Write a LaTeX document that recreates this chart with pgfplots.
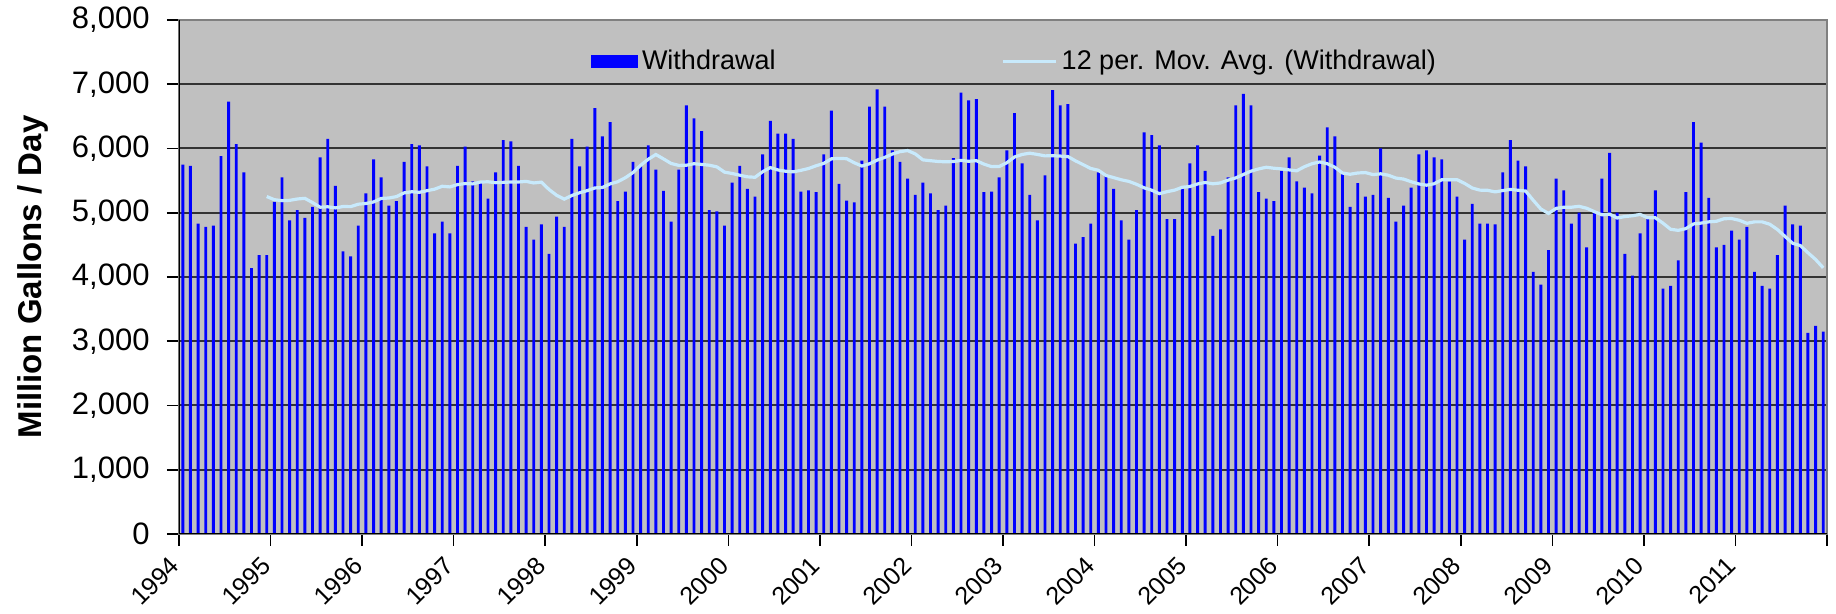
\documentclass[border=0pt]{standalone}
\usepackage{fontspec}
\setmainfont{Liberation Sans}
\usepackage{pgfplots}
\pgfplotsset{compat=1.18}
\definecolor{silverbg}{RGB}{192,192,192}
\definecolor{barblue}{RGB}{0,0,255}
\definecolor{mablue}{RGB}{200,234,252}
\begin{document}
\begin{tikzpicture}
\begin{axis}[
  scale only axis, width=824pt, height=257pt,
  at={(0,0)}, anchor=south west,
  xmin=-0.5, xmax=215.5, ymin=0, ymax=8000,
  ytick={0,1000,2000,3000,4000,5000,6000,7000,8000},
  xtick={-0.5,11.5,23.5,35.5,47.5,59.5,71.5,83.5,95.5,107.5,119.5,131.5,143.5,155.5,167.5,179.5,191.5,203.5,215.5},
  xticklabels={1994,1995,1996,1997,1998,1999,2000,2001,2002,2003,2004,2005,2006,2007,2008,2009,2010,2011,{}},
  scaled y ticks=false,
  /pgf/number format/1000 sep={,},
  /pgf/number format/assume math mode=true,
  axis background/.style={fill=silverbg},
  axis line style={draw=gray, line width=0.8pt},
  ymajorgrids, major grid style={draw=black!80, line width=1pt},
  tick align=outside, xtick pos=left, ytick pos=left,
  major tick length=6pt, tick style={black, line width=0.8pt},
  yticklabel style={font=\fontsize{15.5}{16}\selectfont, xshift=-5.2pt},
  xticklabel style={font=\fontsize{12.5}{13}\selectfont, rotate=45, anchor=north east, xshift=-3.5pt, yshift=4pt},
  ylabel={Million Gallons / Day},
  ylabel style={at={(axis description cs:-0.0886,0.5)}, anchor=center, font=\bfseries\fontsize{16.5}{18}\selectfont},
  legend columns=2,
  legend style={at={(0.25,0.92)}, anchor=west, draw=none, fill=none, inner sep=0pt, outer sep=0pt,
    font=\fontsize{13.5}{14}\selectfont, cells={anchor=west},
    /tikz/every even column/.append style={column sep=111pt}},
]
\addplot[ybar, bar width=0.38, fill=barblue, draw=none,
  legend image code/.code={\fill[barblue] (0pt,-3.25pt) rectangle (23.5pt,3.25pt);}]
table {
x y
0 5750
1 5730
2 4830
3 4780
4 4800
5 5880
6 6730
7 6070
8 5630
9 4140
10 4340
11 4340
12 5170
13 5550
14 4880
15 5040
16 4920
17 5090
18 5860
19 6150
20 5420
21 4400
22 4320
23 4800
24 5300
25 5830
26 5550
27 5110
28 5180
29 5790
30 6070
31 6050
32 5720
33 4680
34 4860
35 4680
36 5730
37 6030
38 5490
39 5460
40 5220
41 5630
42 6130
43 6110
44 5730
45 4780
46 4580
47 4820
48 4360
49 4940
50 4780
51 6150
52 5720
53 6030
54 6630
55 6190
56 6410
57 5180
58 5330
59 5790
60 5720
61 6050
62 5670
63 5340
64 4860
65 5670
66 6670
67 6470
68 6270
69 5040
70 5020
71 4800
72 5470
73 5730
74 5370
75 5250
76 5910
77 6430
78 6230
79 6230
80 6150
81 5330
82 5350
83 5320
84 5910
85 6590
86 5450
87 5190
88 5160
89 5810
90 6650
91 6920
92 6650
93 5970
94 5790
95 5530
96 5280
97 5470
98 5300
99 5040
100 5110
101 5850
102 6870
103 6750
104 6770
105 5320
106 5330
107 5550
108 5970
109 6550
110 5770
111 5280
112 4880
113 5580
114 6910
115 6670
116 6690
117 4520
118 4620
119 4830
120 5630
121 5580
122 5370
123 4880
124 4580
125 5040
126 6250
127 6210
128 6050
129 4900
130 4900
131 5370
132 5770
133 6050
134 5650
135 4640
136 4740
137 5550
138 6670
139 6850
140 6670
141 5320
142 5220
143 5180
144 5650
145 5860
146 5490
147 5390
148 5300
149 5890
150 6330
151 6190
152 5600
153 5090
154 5460
155 5250
156 5280
157 6000
158 5230
159 4860
160 5110
161 5390
162 5910
163 5970
164 5860
165 5830
166 5490
167 5250
168 4580
169 5140
170 4830
171 4830
172 4820
173 5630
174 6130
175 5810
176 5720
177 4080
178 3880
179 4420
180 5530
181 5350
182 4830
183 5000
184 4460
185 5000
186 5530
187 5930
188 5000
189 4360
190 4020
191 4680
192 4900
193 5350
194 3820
195 3860
196 4260
197 5320
198 6410
199 6090
200 5230
201 4460
202 4500
203 4720
204 4580
205 4780
206 4080
207 3860
208 3820
209 4340
210 5110
211 4820
212 4800
213 3130
214 3240
215 3150
};
\addlegendentry{Withdrawal}
\addplot[mablue, line width=1.6pt, sharp plot, mark=none,
  legend image code/.code={\draw[mablue, line width=1.6pt] (0pt,0pt) -- (26.5pt,0pt);}]
table {
x y
11 5252
12 5203
13 5188
14 5193
15 5214
16 5224
17 5158
18 5086
19 5093
20 5075
21 5097
22 5095
23 5133
24 5144
25 5168
26 5223
27 5229
28 5251
29 5309
30 5327
31 5318
32 5343
33 5367
34 5412
35 5402
36 5438
37 5454
38 5449
39 5478
40 5482
41 5468
42 5473
43 5478
44 5479
45 5488
46 5464
47 5476
48 5362
49 5271
50 5212
51 5269
52 5311
53 5344
54 5386
55 5393
56 5449
57 5483
58 5545
59 5626
60 5739
61 5832
62 5906
63 5838
64 5767
65 5737
66 5740
67 5763
68 5752
69 5740
70 5714
71 5632
72 5611
73 5584
74 5559
75 5552
76 5639
77 5703
78 5666
79 5646
80 5636
81 5660
82 5688
83 5731
84 5768
85 5839
86 5846
87 5841
88 5778
89 5727
90 5762
91 5819
92 5861
93 5914
94 5951
95 5968
96 5916
97 5823
98 5810
99 5798
100 5793
101 5797
102 5815
103 5801
104 5811
105 5757
106 5718
107 5720
108 5778
109 5868
110 5907
111 5927
112 5908
113 5885
114 5888
115 5882
116 5875
117 5808
118 5749
119 5689
120 5661
121 5580
122 5547
123 5513
124 5488
125 5443
126 5388
127 5350
128 5297
129 5328
130 5352
131 5397
132 5408
133 5448
134 5471
135 5451
136 5464
137 5507
138 5542
139 5595
140 5647
141 5682
142 5708
143 5693
144 5683
145 5667
146 5653
147 5716
148 5763
149 5791
150 5763
151 5708
152 5618
153 5599
154 5619
155 5625
156 5594
157 5606
158 5584
159 5540
160 5524
161 5483
162 5448
163 5429
164 5451
165 5513
166 5515
167 5515
168 5457
169 5385
170 5352
171 5349
172 5325
173 5345
174 5363
175 5350
176 5338
177 5193
178 5058
179 4989
180 5068
181 5086
182 5086
183 5100
184 5070
185 5018
186 4968
187 4978
188 4918
189 4941
190 4953
191 4974
192 4922
193 4922
194 4838
195 4743
196 4726
197 4753
198 4826
199 4839
200 4858
201 4867
202 4907
203 4910
204 4883
205 4836
206 4858
207 4858
208 4821
209 4739
210 4631
211 4525
212 4489
213 4378
214 4273
215 4143
};
\addlegendentry{12 per. Mov. Avg. (Withdrawal)}
\draw[black, line width=1pt] (rel axis cs:0,1) -- (rel axis cs:0,0) -- (rel axis cs:1,0);
\end{axis}
\pgfresetboundingbox
\path (-89.5pt,-40pt) rectangle (828.5pt,267pt);
\end{tikzpicture}
\end{document}
